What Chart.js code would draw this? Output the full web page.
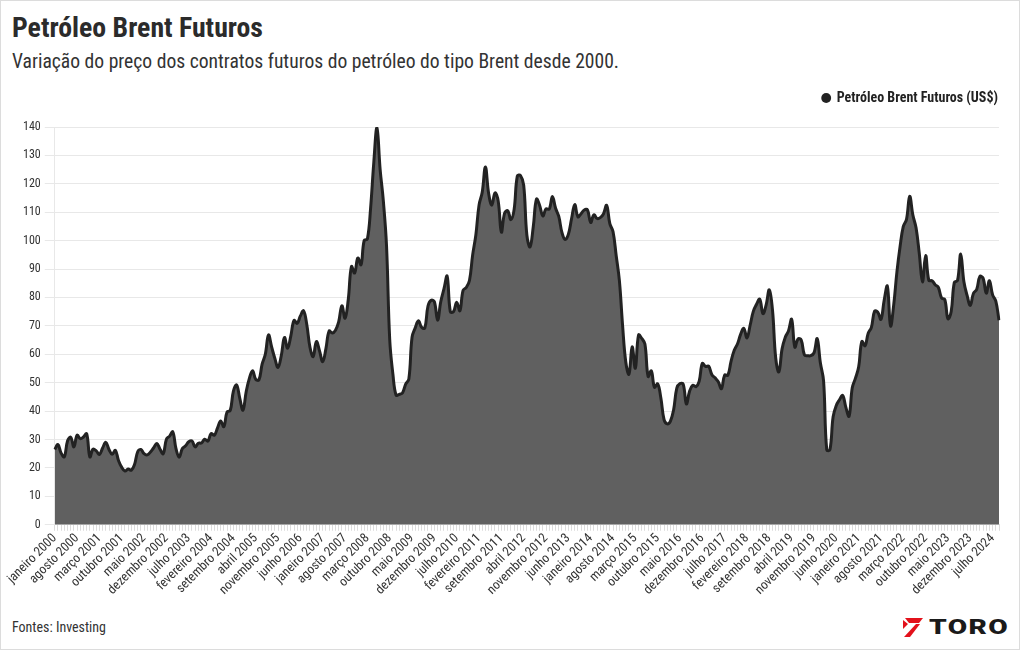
<!DOCTYPE html>
<html lang="pt-BR">
<head>
<meta charset="utf-8">
<title>Petróleo Brent Futuros</title>
<script src="https://cdn.jsdelivr.net/npm/chart.js@4.4.1/dist/chart.umd.min.js"></script>
<style>
  html, body { margin: 0; padding: 0; background: #fff; }
  #page {
    position: relative; width: 1020px; height: 650px; box-sizing: border-box;
    border: 1px solid #dcdcdc; overflow: hidden;
    font-family: 'Roboto Condensed', 'Liberation Sans Narrow', Roboto, sans-serif; color: #333;
  }
  .txt { position: absolute; white-space: nowrap; transform-origin: left top; }
  #title { left: 11px; top: 11px; font-size: 27px; font-weight: 700; color: #2b2b2b; }
  #subtitle { left: 11px; top: 48px; font-size: 21px; color: #333; }
  #source { left: 11px; top: 618px; font-size: 14px; color: #333; }
  #logo { position: absolute; left: 902px; top: 616px; height: 20px; display: flex; align-items: center; }
  #logo span { display: inline-block; transform-origin: left center; font-family: Roboto, sans-serif; font-weight: 900; font-size: 21px; color: #1a1a1a; letter-spacing: 1px; margin-left: 6px; }
  #chartBox { position: absolute; left: 0; top: 89px; width: 1010px; height: 508px; }
</style>
</head>
<body>
<div id="page">
  <div id="title" class="txt">Petróleo Brent Futuros</div>
  <div id="subtitle" class="txt">Variação do preço dos contratos futuros do petróleo do tipo Brent desde 2000.</div>
  <div id="source" class="txt">Fontes: Investing</div>
  <div id="logo">
    <svg width="20" height="19" viewBox="0 0 20 19">
      <polygon points="2,0 20,0 16,5 6,5" fill="#e3111b"/>
      <polygon points="13,6 17,6 7,19 1,19" fill="#e3111b"/>
      <polygon points="0,2 5,6 0,11" fill="#e3111b"/>
    </svg>
    <span id="logoText">TORO</span>
  </div>
  <div id="chartBox"><canvas id="js-chartjs-brent"></canvas></div>
</div>

<script>
// Meses e anos do eixo X (janeiro 2000 - setembro 2024)
const monthNames = ['janeiro', 'fevereiro', 'março', 'abril', 'maio', 'junho', 'julho',
  'agosto', 'setembro', 'outubro', 'novembro', 'dezembro'];
const firstYear = 2000;
const lastYear = 2024;
const lastMonthIndex = 8; // setembro 2024
const labelEvery = 7;     // um rótulo a cada 7 meses

// Fechamento mensal do Brent (US$)
const brentPrices = [
  26.5, 28.2, 25.2, 23.9, 29.5, 30.8, 27.4, 31.5, 30.3, 30.9, 32.0, 23.9,        // 2000
  26.6, 26.0, 24.7, 27.0, 29.0, 26.5, 24.8, 26.2, 22.5, 20.2, 18.9, 19.6,        // 2001
  19.2, 21.2, 25.7, 26.5, 25.0, 24.6, 25.6, 27.1, 28.6, 26.6, 25.0, 30.1,        // 2002
  31.2, 32.7, 26.8, 23.8, 26.8, 27.8, 29.2, 29.5, 27.4, 28.7, 28.8, 30.1,        // 2003
  29.4, 32.1, 31.5, 34.0, 36.5, 34.5, 39.7, 40.2, 47.0, 49.2, 44.5, 40.3,        // 2004
  46.8, 51.5, 54.2, 51.2, 51.0, 56.5, 60.0, 66.8, 62.5, 58.5, 55.4, 59.5,        // 2005
  65.9, 62.1, 66.5, 71.9, 70.9, 73.5, 75.3, 70.5, 62.5, 59.2, 64.5, 61.2,        // 2006
  57.4, 62.0, 68.2, 67.5, 68.5, 71.4, 77.1, 72.7, 79.2, 90.9, 88.6, 93.9,        // 2007
  91.5, 100.1, 100.6, 111.4, 127.4, 139.7, 125.0, 114.0, 98.2, 65.2, 53.0, 45.6, // 2008
  45.9, 46.4, 49.5, 51.3, 66.0, 69.3, 71.8, 69.5, 69.2, 77.0, 79.0, 78.5,        // 2009
  72.0, 78.5, 83.0, 87.5, 75.0, 75.0, 78.3, 75.3, 82.5, 83.5, 86.0, 95.0,        // 2010
  102.0, 112.5, 117.0, 125.9, 116.7, 112.5, 116.8, 114.0, 103.0, 109.6, 110.5, 107.4, // 2011
  111.0, 122.7, 122.9, 119.5, 101.9, 97.8, 104.9, 114.6, 112.4, 108.7, 111.2, 111.1,  // 2012
  115.5, 111.4, 108.5, 102.8, 100.4, 102.2, 107.7, 112.7, 108.4, 109.5, 110.8, 110.8, // 2013
  106.4, 109.1, 107.8, 108.1, 109.4, 112.4, 106.0, 103.2, 94.7, 85.9, 70.2, 57.3,     // 2014
  53.0, 62.6, 55.1, 66.8, 65.6, 63.6, 52.2, 54.2, 48.4, 49.6, 44.6, 37.0,        // 2015
  35.5, 36.5, 40.5, 48.1, 49.7, 49.5, 42.5, 47.0, 49.1, 48.6, 50.5, 56.8,        // 2016
  55.7, 55.8, 52.8, 51.7, 50.3, 47.9, 52.7, 52.6, 57.5, 61.4, 63.6, 67.0,        // 2017
  69.1, 65.8, 70.3, 75.2, 77.6, 79.4, 74.3, 77.4, 82.7, 75.5, 58.7, 53.8,        // 2018
  61.9, 66.0, 68.2, 72.3, 62.5, 65.4, 65.0, 59.8, 59.5, 59.5, 60.5, 65.5,        // 2019
  57.0, 50.7, 26.4, 26.4, 38.0, 42.0, 44.0, 45.5, 41.3, 38.2, 48.2, 51.6,        // 2020
  55.5, 64.5, 63.0, 67.4, 69.5, 75.2, 74.8, 72.3, 79.0, 84.0, 70.0, 77.5,        // 2021
  89.0, 98.0, 105.0, 107.5, 115.6, 109.0, 104.5, 95.6, 85.5, 94.8, 86.0, 85.9,   // 2022
  84.5, 83.5, 79.8, 79.3, 72.5, 75.0, 85.3, 86.0, 95.3, 85.5, 80.7, 77.2,        // 2023
  81.5, 82.8, 87.4, 86.8, 81.5, 85.9, 80.9, 78.7, 72.0                           // 2024
];

// Ticks do eixo Y
const yTicksMin = 0;
const yTicksMax = 140;
const yTicksStep = 10;

// Build labels
let brentLabels = [];
for (let y = firstYear; y <= lastYear; y++) {
  for (let m = 0; m < 12; m++) {
    if (y === lastYear && m > lastMonthIndex) break;
    brentLabels.push(monthNames[m] + ' ' + y);
  }
}

// Fit header texts to the widths seen in the original
function fitWidth(id, width) {
  let el = document.getElementById(id);
  let w = el.getBoundingClientRect().width;
  el.style.transform = 'scaleX(' + (width / w) + ')';
}
fitWidth('title', 251);
fitWidth('subtitle', 607);
fitWidth('source', 94);
fitWidth('logoText', 80);

const fontFamily = "'Roboto Condensed', 'Liberation Sans Narrow', Roboto, sans-serif";
Chart.defaults.font.family = fontFamily;
Chart.defaults.color = '#333';

// Extra room between legend and plot
const legendSpacer = {
  id: 'legendSpacer',
  beforeInit(chart) {
    const origFit = chart.legend.fit;
    chart.legend.fit = function () {
      origFit.bind(chart.legend)();
      this.height += 12;
    };
  }
};

let chartBrentCon = document.getElementById('js-chartjs-brent');

let chartBrentData = {
  labels: brentLabels,
  datasets: [
    {
      label: 'Petróleo Brent Futuros (US$)',
      data: brentPrices,
      fill: 'origin',
      backgroundColor: '#606060',
      borderColor: '#222',
      borderWidth: 3,
      pointRadius: 0,
      tension: 0.4
    }
  ]
};

let chartBrentOptions = {
  responsive: true,
  maintainAspectRatio: false,
  animation: false,
  layout: {
    padding: {left: 18, right: 12, top: 0, bottom: 0}
  },
  scales: {
    x: {
      grid: {
        display: true,
        drawOnChartArea: false,
        tickLength: 6,
        color: '#dcdcdc'
      },
      border: {color: '#dcdcdc'},
      ticks: {
        autoSkip: false,
        maxRotation: 45,
        minRotation: 45,
        padding: 0,
        font: {size: 13},
        callback: function (value, index) {
          return index % labelEvery === 0 ? brentLabels[index] : '';
        }
      }
    },
    y: {
      min: yTicksMin,
      max: yTicksMax,
      grid: {color: '#e8e8e8', tickLength: 10},
      border: {color: '#e8e8e8'},
      ticks: {
        stepSize: yTicksStep,
        padding: 4,
        font: {size: 12}
      }
    }
  },
  plugins: {
    legend: {
      display: true,
      position: 'top',
      align: 'end',
      labels: {
        usePointStyle: true,
        pointStyle: 'circle',
        boxWidth: 7,
        boxHeight: 7,
        padding: 1,
        color: '#222',
        font: {size: 14, weight: 'bold'},
        generateLabels: function (chart) {
          let items = Chart.defaults.plugins.legend.labels.generateLabels(chart);
          items.forEach(function (it) {
            it.fillStyle = '#222';
            it.strokeStyle = '#222';
            it.lineWidth = 0;
          });
          return items;
        }
      }
    },
    tooltip: {enabled: false}
  }
};

if (chartBrentCon !== null) {
  new Chart(chartBrentCon, {type: 'line', data: chartBrentData, options: chartBrentOptions, plugins: [legendSpacer]});
}
</script>
</body>
</html>
